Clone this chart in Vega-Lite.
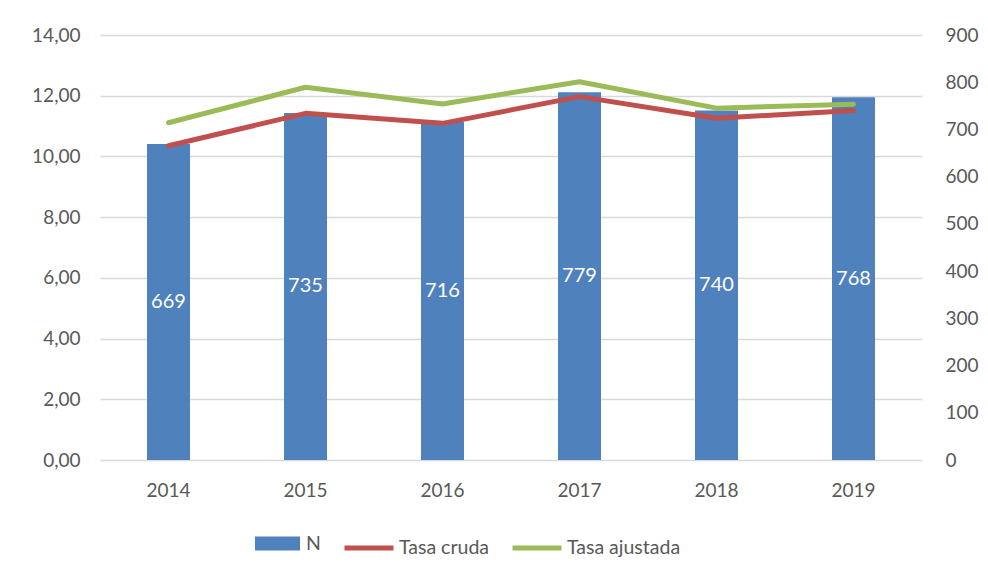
{
  "$schema": "https://vega.github.io/schema/vega-lite/v6.json",
  "width": 822,
  "height": 425,
  "autosize": {"type": "none"},
  "padding": {"left": 100, "top": 35, "right": 66, "bottom": 119},
  "background": "white",
  "data": {
    "values": [
      {"year": "2014", "N": 669, "Tasa cruda": 10.35, "Tasa ajustada": 11.11},
      {"year": "2015", "N": 735, "Tasa cruda": 11.42, "Tasa ajustada": 12.28},
      {"year": "2016", "N": 716, "Tasa cruda": 11.09, "Tasa ajustada": 11.73},
      {"year": "2017", "N": 779, "Tasa cruda": 11.97, "Tasa ajustada": 12.46},
      {"year": "2018", "N": 740, "Tasa cruda": 11.26, "Tasa ajustada": 11.59},
      {"year": "2019", "N": 768, "Tasa cruda": 11.51, "Tasa ajustada": 11.72}
    ]
  },
  "encoding": {
    "x": {
      "field": "year",
      "type": "ordinal",
      "title": null,
      "axis": {"labelAngle": 0, "domain": false, "ticks": false, "labelPadding": 21, "labelFontSize": 19, "labelColor": "#595959", "labelFont": "Lato"}
    }
  },
  "layer": [
    {
      "mark": {"type": "bar", "width": 43},
      "encoding": {
        "y": {
          "field": "N",
          "type": "quantitative",
          "scale": {"domain": [0, 900], "nice": false},
          "title": null,
          "axis": {"orient": "right", "values": [0, 100, 200, 300, 400, 500, 600, 700, 800, 900], "grid": false, "domain": false, "ticks": false, "labelPadding": 23, "labelFontSize": 19, "labelColor": "#595959", "labelFont": "Lato"}
        },
        "fill": {
          "datum": "N",
          "scale": {"domain": ["N"], "range": ["#4F81BD"]},
          "legend": {
            "title": null, "orient": "none", "legendX": 155, "legendY": 486, "direction": "horizontal",
            "symbolType": "M-1,-0.31H1V0.31H-1Z", "symbolSize": 2025, "symbolStrokeWidth": 0,
            "labelFontSize": 19.5, "labelColor": "#595959", "labelFont": "Lato", "labelOffset": 6
          }
        }
      }
    },
    {
      "transform": [{"fold": ["Tasa cruda", "Tasa ajustada"], "as": ["serie", "valor"]}],
      "mark": {"type": "line", "strokeWidth": 5, "strokeCap": "round", "strokeJoin": "round"},
      "encoding": {
        "y": {
          "field": "valor",
          "type": "quantitative",
          "scale": {"domain": [0, 14], "nice": false},
          "title": null,
          "axis": {"orient": "left", "values": [0, 2, 4, 6, 8, 10, 12, 14], "labelExpr": "replace(format(datum.value, '.2f'), '.', ',')", "grid": true, "gridColor": "#D9D9D9", "gridWidth": 1.5, "domain": false, "ticks": false, "labelPadding": 20, "labelFontSize": 19, "labelColor": "#595959", "labelFont": "Lato"}
        },
        "stroke": {
          "field": "serie",
          "type": "nominal",
          "scale": {"domain": ["Tasa cruda", "Tasa ajustada"], "range": ["#C0504D", "#9BBB59"]},
          "legend": {
            "title": null, "orient": "none", "legendX": 242, "legendY": 486, "direction": "horizontal",
            "symbolType": "stroke", "symbolSize": 2401, "symbolStrokeWidth": 5, "columnPadding": 12,
            "labelFontSize": 19.5, "labelColor": "#595959", "labelFont": "Lato", "labelOffset": 3
          }
        }
      }
    },
    {
      "mark": {"type": "text", "color": "white", "fontSize": 20, "font": "Lato", "baseline": "middle"},
      "encoding": {
        "y": {"field": "N", "type": "quantitative", "scale": {"domain": [0, 1800], "nice": false}, "axis": null},
        "text": {"field": "N", "type": "quantitative"}
      }
    }
  ],
  "resolve": {"scale": {"y": "independent"}},
  "config": {"view": {"stroke": null}}
}
